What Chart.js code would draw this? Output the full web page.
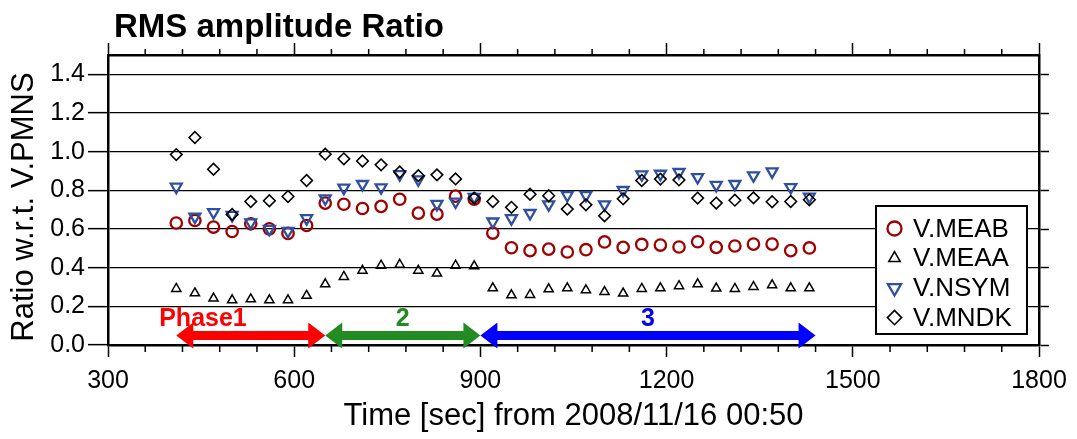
<!DOCTYPE html>
<html>
<head>
<meta charset="utf-8">
<title>RMS amplitude Ratio</title>
<script src="https://cdn.jsdelivr.net/npm/chart.js@4.4.0/dist/chart.umd.min.js"></script>
<style>
  html, body { margin: 0; padding: 0; background: #fff; }
  #wrap { width: 1077px; height: 439px; }
</style>
</head>
<body>
<div id="wrap"><canvas id="rms-chart" width="1077" height="439"></canvas></div>
<script>
// time of each window [sec] from 2008/11/16 00:50
const times = [410, 440, 470, 500, 530, 560, 590, 620, 650, 680, 710, 740, 770, 800, 830, 860, 890,
    920, 950, 980, 1010, 1040, 1070, 1100, 1130, 1160, 1190, 1220, 1250, 1280, 1310, 1340, 1370, 1400, 1430];

const meab = [0.631, 0.644, 0.610, 0.587, 0.627, 0.601, 0.577, 0.618, 0.734, 0.728, 0.706, 0.717, 0.754, 0.682, 0.677, 0.770, 0.755,
    0.579, 0.503, 0.488, 0.496, 0.481, 0.493, 0.533, 0.505, 0.520, 0.517, 0.507, 0.534, 0.505, 0.512, 0.522, 0.522, 0.488, 0.502];
const meaa = [0.291, 0.268, 0.241, 0.232, 0.237, 0.232, 0.232, 0.255, 0.315, 0.353, 0.385, 0.411, 0.416, 0.385, 0.370, 0.411, 0.408,
    0.294, 0.258, 0.260, 0.289, 0.294, 0.284, 0.275, 0.267, 0.291, 0.294, 0.305, 0.315, 0.293, 0.291, 0.301, 0.310, 0.294, 0.294];
const nsym = [0.818, 0.663, 0.686, 0.672, 0.633, 0.600, 0.589, 0.655, 0.758, 0.813, 0.832, 0.815, 0.883, 0.856, 0.729, 0.741, 0.765,
    0.638, 0.655, 0.682, 0.727, 0.775, 0.775, 0.727, 0.801, 0.882, 0.885, 0.894, 0.868, 0.827, 0.832, 0.877, 0.897, 0.816, 0.767];
const mndk = [0.985, 1.073, 0.909, 0.675, 0.742, 0.746, 0.768, 0.851, 0.987, 0.963, 0.952, 0.932, 0.895, 0.876, 0.880, 0.859, 0.760,
    0.742, 0.712, 0.780, 0.772, 0.703, 0.725, 0.668, 0.756, 0.851, 0.858, 0.854, 0.760, 0.734, 0.749, 0.761, 0.741, 0.742, 0.751];

const stationNames = ['V.MEAB', 'V.MEAA', 'V.NSYM', 'V.MNDK'];

const phaseLabels = ['Phase1', '2', '3'];
const phaseStart = [410, 650, 900];
const phaseEnd = [650, 900, 1440];
const phaseLabelAt = [453, 775, 1170];

const xTickValues = [300, 600, 900, 1200, 1500, 1800];
const yTickValues = [0, 0.2, 0.4, 0.6, 0.8, 1.0, 1.2, 1.4];

const FONT = '"Liberation Sans", Arial, Helvetica, sans-serif';
const phaseColors = ['#ff0000', '#228b22', '#0000ff'];

function toPoints(values) {
    return times.map((t, i) => ({ x: t, y: values[i] }));
}

const seriesStyles = [
    { color: '#a00000', pointStyle: 'circle', rotation: 0, radius: 5.7, width: 2.3 },
    { color: '#000000', pointStyle: 'triangle', rotation: 0, radius: 5.3, width: 1.5 },
    { color: '#2f4f9f', pointStyle: 'triangle', rotation: 180, radius: 6.3, width: 2.3 },
    { color: '#000000', pointStyle: 'rectRot', rotation: 0, radius: 5.8, width: 1.6 },
];
const seriesValues = [meab, meaa, nsym, mndk];

const datasets = seriesValues.map((values, i) => {
    const s = seriesStyles[i];
    return {
        label: stationNames[i],
        data: toPoints(values),
        showLine: false,
        order: 3 - i,
        pointStyle: s.pointStyle,
        pointRotation: s.rotation,
        pointRadius: s.radius,
        pointHoverRadius: s.radius,
        pointBorderWidth: s.width,
        pointBorderColor: s.color,
        pointBackgroundColor: 'rgba(0,0,0,0)',
        borderColor: s.color,
        backgroundColor: 'rgba(0,0,0,0)',
    };
});

function markPoint(ctx, style, x, y, radius) {
    ctx.save();
    ctx.strokeStyle = style.color;
    ctx.fillStyle = 'rgba(0,0,0,0)';
    ctx.lineWidth = style.width;
    Chart.helpers.drawPoint(ctx, {
        pointStyle: style.pointStyle,
        rotation: style.rotation,
        radius: radius,
        borderWidth: style.width,
    }, x, y);
    ctx.restore();
}

function drawArrow(ctx, x1, x2, y, color) {
    const head = 17, halfHead = 13, halfShaft = 4.5;
    ctx.beginPath();
    ctx.moveTo(x1, y);
    ctx.lineTo(x1 + head, y - halfHead);
    ctx.lineTo(x1 + head, y - halfShaft);
    ctx.lineTo(x2 - head, y - halfShaft);
    ctx.lineTo(x2 - head, y - halfHead);
    ctx.lineTo(x2, y);
    ctx.lineTo(x2 - head, y + halfHead);
    ctx.lineTo(x2 - head, y + halfShaft);
    ctx.lineTo(x1 + head, y + halfShaft);
    ctx.lineTo(x1 + head, y + halfHead);
    ctx.closePath();
    ctx.fillStyle = color;
    ctx.fill();
}

const decorations = {
    id: 'decorations',
    afterDraw(chart) {
        const { ctx, chartArea: area, scales: { x, y } } = chart;
        ctx.save();

        // title
        ctx.fillStyle = '#000';
        ctx.font = 'bold 33px ' + FONT;
        ctx.textAlign = 'left';
        ctx.textBaseline = 'alphabetic';
        ctx.fillText('RMS amplitude Ratio', area.left + 6, 37);

        // y axis title, sits a little below the plot centre like the original
        ctx.save();
        ctx.translate(24, (area.top + area.bottom) / 2 + 7);
        ctx.rotate(-Math.PI / 2);
        ctx.font = '31px ' + FONT;
        ctx.textAlign = 'center';
        ctx.textBaseline = 'middle';
        ctx.fillText('Ratio w.r.t. V.PMNS', 0, 0);
        ctx.restore();

        // minor ticks on bottom and top axes
        ctx.strokeStyle = '#000';
        ctx.lineWidth = 1.5;
        ctx.beginPath();
        for (let v = 300; v <= 1800; v += 60) {
            if (v % 300 === 0) continue;
            const px = x.getPixelForValue(v);
            ctx.moveTo(px, area.bottom);
            ctx.lineTo(px, area.bottom + 7);
            ctx.moveTo(px, area.top);
            ctx.lineTo(px, area.top - 6);
        }
        ctx.stroke();

        // phase arrows
        const arrowY = y.getPixelForValue(0.049);
        const textY = y.getPixelForValue(0.135);
        phaseLabels.forEach((label, i) => {
            drawArrow(ctx, x.getPixelForValue(phaseStart[i]), x.getPixelForValue(phaseEnd[i]), arrowY, phaseColors[i]);
            ctx.fillStyle = phaseColors[i];
            ctx.font = 'bold 25px ' + FONT;
            ctx.textAlign = 'center';
            ctx.textBaseline = 'middle';
            ctx.fillText(label, x.getPixelForValue(phaseLabelAt[i]), textY);
        });

        // legend box
        const boxRight = area.right - 12, boxBottom = area.bottom - 11;
        const boxW = 151, boxH = 128;
        const boxLeft = boxRight - boxW, boxTop = boxBottom - boxH;
        ctx.fillStyle = '#fff';
        ctx.fillRect(boxLeft, boxTop, boxW, boxH);
        ctx.strokeStyle = '#000';
        ctx.lineWidth = 2;
        ctx.strokeRect(boxLeft, boxTop, boxW, boxH);
        ctx.font = '26px ' + FONT;
        ctx.textAlign = 'left';
        ctx.textBaseline = 'middle';
        stationNames.forEach((name, i) => {
            const rowY = boxTop + 22.5 + i * 29.7;
            markPoint(ctx, seriesStyles[i], boxLeft + 18.5, rowY, seriesStyles[i].radius + 1.3);
            ctx.fillStyle = '#000';
            ctx.fillText(name, boxLeft + 37, rowY + 1);
        });

        ctx.restore();
    }
};

const axisColor = '#000';
const frameBorder = { display: true, color: axisColor, width: 2.5 };

new Chart(document.getElementById('rms-chart'), {
    type: 'scatter',
    data: { datasets: datasets },
    options: {
        responsive: false,
        animation: false,
        devicePixelRatio: 1,
        layout: { padding: 0 },
        plugins: {
            legend: { display: false },
            tooltip: { enabled: false },
            title: { display: false },
        },
        scales: {
            x: {
                type: 'linear',
                position: 'bottom',
                min: 300,
                max: 1800,
                afterBuildTicks: s => { s.ticks = xTickValues.map(v => ({ value: v })); },
                ticks: {
                    color: axisColor,
                    font: { family: FONT, size: 25 },
                    padding: 9,
                    maxRotation: 0,
                    autoSkip: false,
                    callback: v => String(v),
                },
                grid: { drawOnChartArea: false, color: axisColor, tickLength: 12, tickWidth: 1.5 },
                border: frameBorder,
                title: {
                    display: true,
                    text: 'Time [sec] from 2008/11/16 00:50',
                    color: axisColor,
                    font: { family: FONT, size: 31 },
                    padding: { top: 0, bottom: 4 },
                },
                afterFit: s => { s.height = 94; },
            },
            x2: {
                type: 'linear',
                axis: 'x',
                position: 'top',
                min: 300,
                max: 1800,
                afterBuildTicks: s => { s.ticks = xTickValues.map(v => ({ value: v })); },
                ticks: { display: false },
                grid: { drawOnChartArea: false, color: axisColor, tickLength: 12, tickWidth: 1.5 },
                border: frameBorder,
                afterFit: s => { s.height = 55; },
            },
            y: {
                type: 'linear',
                position: 'left',
                min: 0,
                max: 1.5,
                afterBuildTicks: s => { s.ticks = yTickValues.map(v => ({ value: v })); },
                ticks: {
                    color: axisColor,
                    font: { family: FONT, size: 25 },
                    padding: 3,
                    callback: v => Number(v).toFixed(1),
                },
                grid: { color: axisColor, lineWidth: 1.3, tickLength: 20, tickWidth: 1.5 },
                border: frameBorder,
                afterFit: s => { s.width = 108; },
            },
            y2: {
                type: 'linear',
                axis: 'y',
                position: 'right',
                min: 0,
                max: 1.5,
                afterBuildTicks: s => { s.ticks = yTickValues.map(v => ({ value: v })); },
                ticks: { display: false },
                grid: { drawOnChartArea: false, color: axisColor, tickLength: 10, tickWidth: 1.5 },
                border: frameBorder,
                afterFit: s => { s.width = 38; },
            },
        },
    },
    plugins: [decorations],
});
</script>
</body>
</html>
